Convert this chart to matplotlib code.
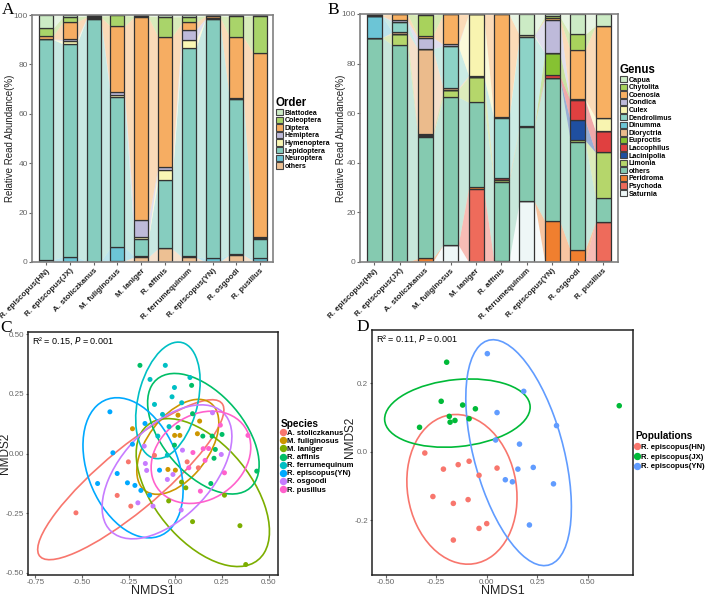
import numpy as np
import matplotlib
matplotlib.use('Agg')
import matplotlib.pyplot as plt
from matplotlib.patches import Ellipse, Patch
from matplotlib.lines import Line2D

plt.rcParams['font.family'] = ['Liberation Sans', 'DejaVu Sans']

species = ['R. episcopus(HN)', 'R. episcopus(JX)', 'A. stoliczkanus', 'M. fuliginosus', 'M. laniger',
           'R. affinis', 'R. ferrumequinum', 'R. episcopus(YN)', 'R. osgoodi', 'R. pusillus']

# ---- A: order level (%), one value per species
order_names = ['Blattodea', 'Coleoptera', 'Diptera', 'Hemiptera', 'Hymenoptera',
               'Lepidoptera', 'Neuroptera', 'others']
blattodea = [5.4, 0.7, 0.4, 0.2, 0.4, 0.7, 0.7, 0.3, 0.6, 0.3]
coleoptera = [3.1, 2.0, 0.4, 4.3, 0.3, 8.1, 2.3, 0.1, 8.2, 15.1]
diptera = [1.2, 7.2, 0.4, 26.5, 82.3, 52.8, 3.0, 1.0, 25.0, 74.5]
hemiptera = [0.2, 0.5, 0.3, 1.5, 6.7, 1.2, 4.2, 0.2, 0.2, 0.3]
hymenoptera = [0, 1.3, 0, 0.5, 1.0, 4.0, 3.3, 0, 0, 0.3]
lepidoptera = [89.1, 86.1, 98.3, 61.0, 7.0, 27.5, 84.2, 96.9, 62.8, 8.0]
neuroptera = [1.0, 2.2, 0, 5.5, 0.3, 0.2, 0.3, 1.5, 0.2, 1.0]
order_others = [0, 0, 0.2, 0.5, 2.0, 5.5, 2.0, 0, 3.0, 0.5]
order_colors = ['#CCEBC5', '#A9D46A', '#F6AD62', '#BEBADA', '#FAF7B4', '#86CDBF', '#6CC5D6', '#EDC093']

# ---- B: genus level (%)
genus_names = ['Capua', 'Chytolita', 'Coenosia', 'Condica', 'Culex', 'Dendrolimus', 'Dinumma',
               'Dioryctria', 'Euproctis', 'Laccophilus', 'Lacinipolia', 'Limonia', 'others',
               'Peridroma', 'Psychoda', 'Saturnia']
capua = [0.4, 0, 0.4, 0, 0, 0, 8.5, 0.9, 8.2, 4.7]
chytolita = [0, 0, 8.3, 0, 0, 0, 0, 0.9, 6.2, 0]
coenosia = [0.4, 2.6, 0.8, 12.2, 0, 41.5, 0, 0.6, 19.9, 37.2]
condica = [0, 0.7, 4.5, 0.6, 0, 0, 0, 13.2, 0, 0]
culex = [0, 0, 0, 0, 24.8, 0.6, 0.6, 0, 0, 5.4]
dendrolimus = [0, 4.0, 0, 17.2, 0, 24.2, 36.1, 0, 0, 0]
dinumma = [8.7, 0, 0, 0, 0, 0, 0, 0, 0, 0]
dioryctria = [0, 0.6, 34.2, 0.6, 0.5, 0, 0, 0, 0.5, 0]
euproctis = [0, 0, 0.5, 0, 0, 0, 0, 9.0, 0, 0]
laccophilus = [0, 0, 0.5, 0, 0, 0.5, 0, 1.2, 8.0, 8.5]
lacinipolia = [0, 0, 0, 0, 0, 0, 0, 0, 8.2, 0]
limonia = [0, 4.6, 0.5, 2.8, 10.3, 0.8, 0.5, 0, 0.5, 18.2]
genus_others = [90.5, 87.5, 48.8, 59.6, 34.3, 32.0, 29.8, 57.6, 43.5, 9.8]
peridroma = [0, 0, 1.5, 0, 0.8, 0, 0, 16.6, 5.0, 0]
psychoda = [0, 0, 0, 0, 29.3, 0, 0, 0, 0, 15.6]
saturnia = [0, 0, 0, 7.0, 0, 0.4, 24.5, 0, 0, 0.6]
genus_colors = ['#CCEBC5', '#A8D25C', '#F8B062', '#BEBADA', '#F8F4B0', '#8DD3C7', '#6CC5D6',
                '#EBBB8C', '#86C232', '#E04040', '#1F4FA0', '#B5D66B', '#85CAB0',
                '#F07F2F', '#EE6B5B', '#EEF7F7']

# ---- C: NMDS by species
c_species = ['A. stoliczkanus', 'M. fuliginosus', 'M. laniger', 'R. affinis', 'R. ferrumequinum',
             'R. episcopus(YN)', 'R. osgoodi', 'R. pusillus']
c_colors = ['#F8766D', '#CD9600', '#7CAE00', '#00BE67', '#00BFC4', '#00A9FF', '#C77CFF', '#FF61CC']
stol_pts = [(-0.533, -0.249), (-0.312, -0.176), (-0.239, -0.221), (-0.252, -0.035),
            (-0.112, -0.008), (0.063, -0.035), (0.123, -0.060)]
fulig_pts = [(-0.230, 0.104), (0.014, 0.161), (0.130, 0.136), (-0.004, 0.076), (0.024, 0.076),
             (0.118, 0.083), (-0.040, -0.067), (0.000, -0.070)]
lanig_pts = [(-0.036, -0.199), (0.033, -0.120), (0.056, -0.144), (0.092, -0.286),
             (0.263, -0.175), (0.346, -0.303), (0.377, -0.466)]
affin_pts = [(-0.190, 0.370), (0.087, 0.286), (0.014, 0.109), (0.092, 0.167), (0.147, 0.073),
             (0.197, 0.073), (0.250, 0.080), (-0.005, 0.035), (0.214, 0.017), (0.207, -0.020),
             (0.190, -0.126), (0.436, -0.074)]
ferr_pts = [(-0.054, 0.370), (-0.136, 0.311), (0.078, 0.319), (-0.005, 0.277), (-0.018, 0.238),
            (-0.112, 0.206), (0.034, 0.213), (-0.069, 0.164), (-0.034, 0.113), (-0.094, 0.073),
            (-0.043, -0.007)]
yn_pts = [(-0.351, 0.175), (-0.163, 0.126), (-0.335, 0.003), (-0.230, 0.039), (-0.417, -0.126),
          (-0.312, -0.084), (-0.257, -0.123), (-0.217, -0.134), (-0.185, -0.155),
          (-0.138, -0.175), (-0.085, -0.070)]
osg_pts = [(0.199, 0.171), (-0.167, 0.031), (-0.161, -0.042), (-0.154, -0.071), (-0.013, -0.088),
           (-0.043, -0.109), (0.038, 0.014), (0.246, -0.004), (-0.201, -0.207),
           (-0.120, -0.221), (0.031, -0.237)]
pus_pts = [(0.241, 0.119), (0.389, 0.076), (0.094, 0.004), (0.149, 0.020), (0.178, 0.021),
           (0.159, -0.029), (0.072, -0.060), (0.134, -0.158), (0.263, -0.081)]
# ellipse: centre x, centre y, width, height, angle
c_ellipses = [(-0.239, -0.110, 1.17, 0.28, 32.5), (0.013, 0.028, 0.516, 0.293, 39.5),
              (0.147, -0.164, 0.83, 0.455, -37.5), (0.150, 0.083, 0.686, 0.378, -36),
              (-0.040, 0.223, 0.51, 0.314, 69), (-0.227, -0.06, 0.65, 0.46, 127),
              (-0.045, -0.077, 0.79, 0.42, 34), (0.137, -0.016, 0.547, 0.369, 17)]

# ---- D: NMDS by population
d_pops = ['R. episcopus(HN)', 'R. episcopus(JX)', 'R. episcopus(YN)']
d_colors = ['#F8766D', '#00BA38', '#619CFF']
hn_pts = [(-0.306, -0.004), (-0.214, -0.051), (-0.141, -0.038), (-0.087, -0.028), (-0.038, -0.069),
          (0.051, -0.048), (-0.266, -0.131), (-0.165, -0.151), (-0.092, -0.140), (0.000, -0.210),
          (-0.038, -0.224), (-0.165, -0.258)]
jx_pts = [(-0.198, 0.261), (-0.225, 0.147), (-0.119, 0.136), (-0.056, 0.125), (-0.185, 0.103),
          (-0.181, 0.086), (-0.157, 0.091), (-0.087, 0.096), (-0.332, 0.071), (0.655, 0.134)]
yn2_pts = [(0.003, 0.286), (0.183, 0.176), (0.051, 0.114), (0.345, 0.076), (0.044, 0.034),
           (0.162, 0.022), (0.230, -0.046), (0.154, -0.051), (0.092, -0.082), (0.127, -0.088),
           (0.330, -0.094), (0.211, -0.214)]
d_ellipses = [(-0.1225, -0.110, 0.55, 0.43, -13), (-0.145, 0.1125, 0.72, 0.196, 3),
              (0.1575, -0.003, 0.734, 0.41, -58)]

W, H = 707, 596
fig = plt.figure(figsize=(W / 100, H / 100), dpi=100)


def box(l, t, r, b):
    return [l / W, 1 - b / H, (r - l) / W, (b - t) / H]


def alluvial(ax, layers, colors, width):
    # layers: list from bottom to top
    x = np.arange(len(species))
    bottom = np.zeros(len(species))
    for vals, col in zip(layers, colors):
        vals = np.array(vals, float)
        top = bottom + vals
        for i in range(len(x) - 1):
            xs = [x[i] + width / 2, x[i + 1] - width / 2]
            ax.fill_between(xs, [bottom[i], bottom[i + 1]], [top[i], top[i + 1]],
                            color=col, alpha=0.45, lw=0, zorder=1)
        ax.bar(x, vals, width, bottom=bottom, color=col, edgecolor='#333333',
               linewidth=0.9, zorder=2)
        bottom = top
    ax.set_ylim(0, 100)
    ax.set_xticks(x)
    ax.set_xticklabels(species, rotation=45, ha='right', rotation_mode='anchor',
                       fontsize=5.8, fontweight='bold', color='#222222')
    ax.set_yticks([0, 20, 40, 60, 80, 100])
    ax.tick_params(axis='y', labelsize=6, colors='#666666', length=2, pad=1)
    ax.tick_params(axis='x', length=2, pad=2, color='#666666')
    for s in ax.spines.values():
        s.set_color('#808080')
        s.set_linewidth(1.2)
    ax.set_ylabel('Relative Read Abundance(%)', fontsize=7, color='#222222')


# Panel A
axA = fig.add_axes(box(32, 15, 273, 262))
a_layers = [order_others, neuroptera, lepidoptera, hymenoptera, hemiptera, diptera, coleoptera, blattodea]
alluvial(axA, a_layers, order_colors[::-1], 0.59)
axA.set_xlim(-0.59, 9.54)
axA.yaxis.set_label_coords(-0.07, 0.5)

# Panel B
axB = fig.add_axes(box(360, 14, 618, 262))
b_layers = [saturnia, psychoda, peridroma, genus_others, limonia, lacinipolia, laccophilus,
            euproctis, dioryctria, dinumma, dendrolimus, culex, condica, coenosia, chytolita, capua]
alluvial(axB, b_layers, genus_colors[::-1], 0.59)
axB.set_xlim(-0.57, 9.59)
axB.yaxis.set_label_coords(-0.055, 0.5)


def sq_legend(names, colors, title, xy):
    handles = [Patch(facecolor=c, edgecolor='#444444', linewidth=0.8) for c in colors]
    leg = fig.legend(handles, names, title=title, loc='upper left', bbox_to_anchor=xy,
                     frameon=False, prop={'size': 5.1, 'weight': 'bold'},
                     handlelength=0.95, handleheight=1.0, handletextpad=0.25,
                     labelspacing=0.0, borderpad=0, borderaxespad=0)
    leg.get_title().set_fontsize(8.3)
    leg.get_title().set_fontweight('bold')
    leg._legend_box.align = 'left'


sq_legend(order_names, order_colors, 'Order', (276 / W, 1 - 97 / H))
sq_legend(genus_names, genus_colors, 'Genus', (620 / W, 1 - 64 / H))


def nmds_axes(ax, groups, colors, ells, size):
    for (cx, cy, w, h, ang), col in zip(ells, colors):
        ax.add_patch(Ellipse((cx, cy), w, h, angle=ang, fill=False, edgecolor=col, lw=1.2, zorder=2))
    for pts, col in zip(groups, colors):
        p = np.array(pts)
        ax.scatter(p[:, 0], p[:, 1], s=size, color=col, edgecolors='none', zorder=3)
    ax.tick_params(labelsize=5.8, colors='#666666', length=1.8, pad=1.0)
    for s in ax.spines.values():
        s.set_color('#222222')
        s.set_linewidth(1.1)
    ax.set_xlabel('NMDS1', fontsize=9, color='#222222')
    ax.set_ylabel('NMDS2', fontsize=8.5, color='#222222')


def dot_legend(names, colors, title, xy, sp):
    handles = [Line2D([], [], marker='o', ls='none', markersize=4.3, color=c) for c in colors]
    leg = fig.legend(handles, names, title=title, loc='upper left', bbox_to_anchor=xy,
                     frameon=False, prop={'size': 5.6, 'weight': 'bold'},
                     handlelength=0.6, handletextpad=0.2, labelspacing=sp,
                     borderpad=0, borderaxespad=0)
    leg.get_title().set_fontsize(7.2)
    leg.get_title().set_fontweight('bold')
    leg._legend_box.align = 'left'


# Panel C
axC = fig.add_axes(box(28, 332, 278, 575))
nmds_axes(axC, [stol_pts, fulig_pts, lanig_pts, affin_pts, ferr_pts, yn_pts, osg_pts, pus_pts],
          c_colors, c_ellipses, 13)
axC.set_xlim(-0.79, 0.55)
axC.set_ylim(-0.51, 0.51)
axC.set_xticks([-0.75, -0.50, -0.25, 0.00, 0.25, 0.50])
axC.set_xticklabels(['-0.75', '-0.50', '-0.25', '0.00', '0.25', '0.50'])
axC.set_yticks([-0.50, -0.25, 0.00, 0.25, 0.50])
axC.set_yticklabels(['-0.50', '-0.25', '0.00', '0.25', '0.50'])
axC.xaxis.set_label_coords(0.5, -0.042)
axC.yaxis.set_label_coords(-0.069, 0.5)
axC.text(0.015, 0.985, 'R\u00b2 = 0.15, $\\it{P}$ = 0.001', transform=axC.transAxes,
         ha='left', va='top', fontsize=6.5)
dot_legend(c_species, c_colors, 'Species', (281 / W, 1 - 419 / H), 0.08)

# Panel D
axD = fig.add_axes(box(372, 330, 633, 575))
nmds_axes(axD, [hn_pts, jx_pts, yn2_pts], d_colors, d_ellipses, 16)
axD.set_xlim(-0.567, 0.723)
axD.set_ylim(-0.36, 0.355)
axD.set_xticks([-0.50, -0.25, 0.00, 0.25, 0.50])
axD.set_xticklabels(['-0.50', '-0.25', '0.00', '0.25', '0.50'])
axD.set_yticks([-0.2, 0.0, 0.2])
axD.set_yticklabels(['-0.2', '0.0', '0.2'])
axD.xaxis.set_label_coords(0.5, -0.042)
axD.yaxis.set_label_coords(-0.06, 0.56)
axD.text(0.015, 0.985, 'R\u00b2 = 0.11, $\\it{P}$ = 0.001', transform=axD.transAxes,
         ha='left', va='top', fontsize=6.5)
dot_legend(d_pops, d_colors, 'Populations', (635 / W, 1 - 431 / H), 0.3)

# panel letters
for txt, x, y in [('A', 2, 14), ('B', 327, 14), ('C', 0, 332), ('D', 356, 331)]:
    fig.text(x / W, 1 - y / H, txt, fontsize=12.5, family='Liberation Serif', va='baseline', ha='left')

fig.savefig('out.png', dpi=100)
